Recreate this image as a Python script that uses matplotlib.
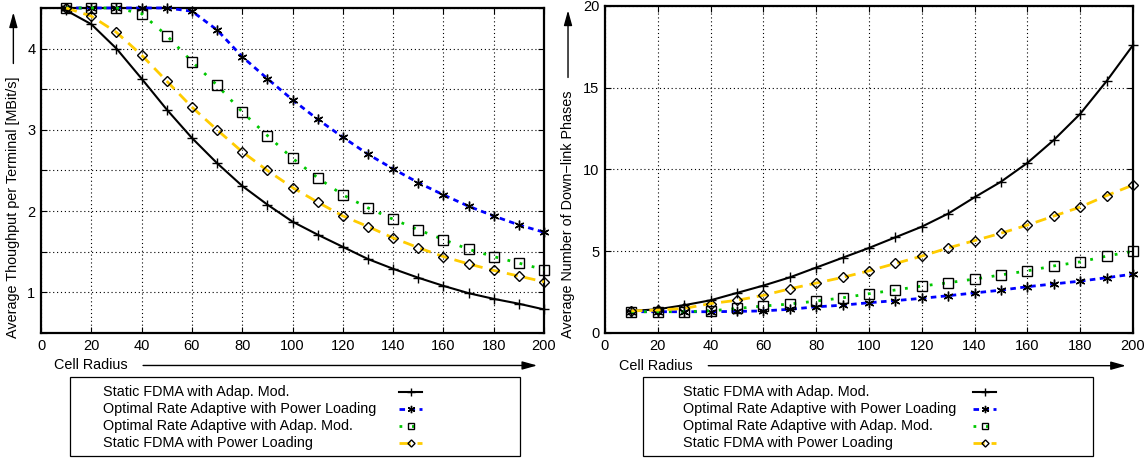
import matplotlib

matplotlib.use("Agg")
import matplotlib.pyplot as plt
from matplotlib.patches import Rectangle


OUT_PATH = "out.png"

# радиус ячейки, общий для всех кривых
radius = [10, 20, 30, 40, 50, 60, 70, 80, 90, 100,
          110, 120, 130, 140, 150, 160, 170, 180, 190, 200]

# левый график: пропускная способность на терминал, MBit/s
thr_static_adap = [4.47, 4.30, 4.00, 3.63, 3.25, 2.90, 2.59, 2.31, 2.08, 1.87,
                   1.71, 1.56, 1.41, 1.29, 1.18, 1.08, 0.99, 0.92, 0.86, 0.79]
thr_opt_power = [4.50, 4.50, 4.50, 4.50, 4.50, 4.46, 4.23, 3.90, 3.63, 3.37,
                 3.13, 2.91, 2.70, 2.52, 2.35, 2.20, 2.06, 1.94, 1.83, 1.74]
thr_opt_adap = [4.50, 4.50, 4.50, 4.43, 4.16, 3.84, 3.55, 3.22, 2.93, 2.65,
                2.41, 2.20, 2.04, 1.90, 1.77, 1.65, 1.53, 1.44, 1.36, 1.28]
thr_static_power = [4.50, 4.40, 4.20, 3.92, 3.60, 3.28, 3.00, 2.73, 2.50, 2.29,
                    2.11, 1.94, 1.81, 1.67, 1.55, 1.44, 1.35, 1.27, 1.20, 1.13]

# правый график: число фаз нисходящей линии
ph_static_adap = [1.35, 1.45, 1.70, 2.00, 2.45, 2.90, 3.40, 4.00, 4.60, 5.20,
                  5.85, 6.50, 7.30, 8.30, 9.25, 10.40, 11.80, 13.40, 15.40, 17.60]
ph_opt_power = [1.30, 1.30, 1.30, 1.30, 1.32, 1.35, 1.45, 1.60, 1.70, 1.85,
                1.98, 2.12, 2.28, 2.45, 2.62, 2.83, 3.00, 3.17, 3.38, 3.60]
ph_opt_adap = [1.30, 1.30, 1.30, 1.35, 1.50, 1.65, 1.77, 1.95, 2.15, 2.40,
               2.63, 2.87, 3.07, 3.30, 3.55, 3.80, 4.10, 4.35, 4.70, 5.00]
ph_static_power = [1.35, 1.40, 1.50, 1.80, 2.00, 2.30, 2.70, 3.05, 3.40, 3.80,
                   4.25, 4.70, 5.20, 5.65, 6.10, 6.60, 7.15, 7.70, 8.40, 9.05]

labels = [
    "Static FDMA with Adap. Mod.",
    "Optimal Rate Adaptive with Power Loading",
    "Optimal Rate Adaptive with Adap. Mod.",
    "Static FDMA with Power Loading",
]

x_ticks = [0, 20, 40, 60, 80, 100, 120, 140, 160, 180, 200]

# стиль каждой кривой: цвет линии, штрих, маркер
STYLES = [
    dict(color="black", linestyle="-", linewidth=1.5, marker="+", markersize=7),
    dict(color="#0000ff", linestyle=(0, (2.0, 1.6)), linewidth=2.0,
         marker=(6, 2, 0), markersize=7),
    dict(color="#00c800", linestyle=(0, (1.0, 3.5)), linewidth=2.0,
         marker="s", markersize=6.5),
    dict(color="#ffcc00", linestyle=(0, (4.0, 2.5)), linewidth=2.0,
         marker="D", markersize=4.8),
]

FONT = "Liberation Sans"
plt.rcParams["font.family"] = [FONT, "DejaVu Sans"]

TICK_SIZE = 10.5
LABEL_SIZE = 10.4
LEGEND_SIZE = 10.4


def draw_curves(ax, series):
    handles = []
    for values, style, label in zip(series, STYLES, labels):
        (line,) = ax.plot(
            radius,
            values,
            color=style["color"],
            linestyle=style["linestyle"],
            linewidth=style["linewidth"],
            marker=style["marker"],
            markersize=style["markersize"],
            markeredgecolor="black",
            markerfacecolor="none",
            markeredgewidth=1.0,
            label=label,
            clip_on=False,
            zorder=3,
        )
        handles.append(line)
    return handles


def style_axes(ax):
    ax.set_xlim(0, 200)
    ax.set_xticks(x_ticks)
    ax.grid(True, color="black", linestyle=(0, (1, 2.5)), linewidth=0.8)
    ax.tick_params(direction="in", top=True, right=True, length=4,
                   labelsize=TICK_SIZE, pad=4)
    for spine in ax.spines.values():
        spine.set_linewidth(1.6)


def add_axis_arrows(fig, ax, ylabel, ylabel_x):
    # подпись оси x и стрелка вправо
    xt = ax.text(0.026, -0.1, "Cell Radius", transform=ax.transAxes,
                 ha="left", va="center", fontsize=LABEL_SIZE)
    # подпись оси y, повернута, стрелка вверх
    yt = ax.text(ylabel_x, -0.014, ylabel, transform=ax.transAxes,
                 rotation=90, ha="center", va="bottom", fontsize=LABEL_SIZE)

    fig.canvas.draw()
    inv = ax.transAxes.inverted()
    xb = inv.transform(xt.get_window_extent().get_points())
    yb = inv.transform(yt.get_window_extent().get_points())

    arrow = dict(arrowstyle="-|>,head_length=0.9,head_width=0.25",
                 color="black", lw=1.0)
    ax.annotate("", xy=(0.992, -0.1), xytext=(xb[1][0] + 0.025, -0.1),
                xycoords="axes fraction", textcoords="axes fraction",
                arrowprops=arrow, annotation_clip=False)
    ax.annotate("", xy=(ylabel_x, 0.995), xytext=(ylabel_x, yb[1][1] + 0.03),
                xycoords="axes fraction", textcoords="axes fraction",
                arrowprops=arrow, annotation_clip=False)


def add_legend(fig, ax, handles, box, text_x, handle_x):
    # легенда рисует только образцы линий, подписи пишем сами слева
    leg = ax.legend(
        handles,
        [""] * len(labels),
        loc="upper left",
        bbox_to_anchor=(handle_x, box[1] + box[3] - 0.028),
        frameon=False,
        handlelength=1.6,
        handletextpad=0.0,
        labelspacing=0.21,
        borderaxespad=0.0,
        borderpad=0.0,
        fontsize=LEGEND_SIZE,
        markerscale=0.75,
    )
    fig.canvas.draw()
    inv = ax.transAxes.inverted()
    for line, label in zip(leg.get_lines(), labels):
        pts = inv.transform(line.get_window_extent().get_points())
        y_mid = (pts[0][1] + pts[1][1]) / 2
        ax.text(text_x, y_mid, label, transform=ax.transAxes,
                ha="left", va="center", fontsize=LEGEND_SIZE)
    ax.add_patch(Rectangle((box[0], box[1]), box[2], box[3],
                           transform=ax.transAxes, fill=False,
                           edgecolor="black", linewidth=0.9, clip_on=False))


def main() -> None:
    fig = plt.figure(figsize=(11.46, 4.61), dpi=100)
    ax_left = fig.add_axes([0.0358, 0.2777, 0.4389, 0.705])
    ax_right = fig.add_axes([0.5279, 0.2777, 0.4607, 0.7093])

    handles = draw_curves(ax_left, [thr_static_adap, thr_opt_power,
                                    thr_opt_adap, thr_static_power])
    style_axes(ax_left)
    ax_left.set_ylim(0.5, 4.5)
    y_left = [0.5, 1.0, 1.5, 2.0, 2.5, 3.0, 3.5, 4.0, 4.5]
    ax_left.set_yticks(y_left)
    ax_left.set_yticklabels([f"{v:g}" if v in (1.0, 2.0, 3.0, 4.0) else ""
                             for v in y_left])

    draw_curves(ax_right, [ph_static_adap, ph_opt_power,
                           ph_opt_adap, ph_static_power])
    style_axes(ax_right)
    ax_right.set_ylim(0, 20)
    ax_right.set_yticks([0, 5, 10, 15, 20])

    add_axis_arrows(fig, ax_left,
                    "Average Thoughput per Terminal [MBit/s]", -0.055)
    add_axis_arrows(fig, ax_right,
                    "Average Number of Down\u2212link Phases", -0.07)

    add_legend(fig, ax_left, handles, (0.058, -0.378, 0.895, 0.243),
               0.123, 0.712)
    add_legend(fig, ax_right, handles, (0.072, -0.376, 0.852, 0.242),
               0.148, 0.697)

    fig.savefig(OUT_PATH, dpi=100)
    plt.close(fig)


if __name__ == "__main__":
    main()
